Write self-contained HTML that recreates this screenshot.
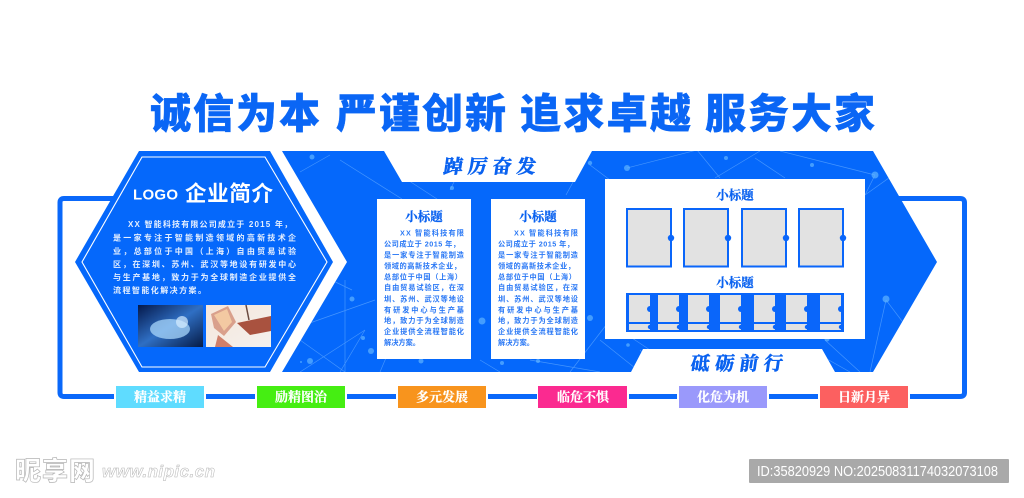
<!DOCTYPE html>
<html><head><meta charset="utf-8"><style>
html,body{margin:0;padding:0;background:#fff;width:1024px;height:498px;overflow:hidden}
svg{display:block}
text{font-family:"Liberation Sans","Noto Sans CJK SC",sans-serif}
.s{font-family:"Liberation Serif","Noto Serif CJK SC",serif;font-weight:700}
.t{font-size:41px;font-weight:900;fill:#0a66f5;stroke:#0a66f5;stroke-width:.4}
.h{font-size:8px;fill:#e4efff;font-weight:700}
.c{font-size:7.2px;fill:#2a78f5;font-weight:700}
.tag{font-size:13px;fill:#fff;text-anchor:middle;stroke:#fff;stroke-width:.2}
.sub{font-size:12.5px;fill:#0a62f0;text-anchor:middle;stroke:#0a62f0;stroke-width:.25}
.cal{font-size:19px;fill:#0a62f0;stroke:#0a62f0;stroke-width:.6}
.n{stroke:#5fa8ff;stroke-width:.7;fill:none;opacity:.7}
.d{fill:#5fb4ff;opacity:.7}
.f{fill:#e2e2e2;stroke:#0a66fa;stroke-width:2}
.k{fill:#0a66fa}
</style></head><body>
<svg width="1024" height="498" viewBox="0 0 1024 498" xmlns="http://www.w3.org/2000/svg">
<defs>
<clipPath id="m"><path d="M282 151H384L402 182H575L592 151H873L937 262L873 372H835L822 349H643L631 372H282L347 262Z"/></clipPath>
<linearGradient id="p1" x1="0" y1="0" x2="1" y2="1"><stop offset="0" stop-color="#04184a"/><stop offset=".5" stop-color="#2f6fc4"/><stop offset="1" stop-color="#051a45"/></linearGradient>
<linearGradient id="p2" x1="0" y1="0" x2="1" y2="1"><stop offset="0" stop-color="#f6e6da"/><stop offset="1" stop-color="#f3f1ee"/></linearGradient>
</defs>
<text class="t" x="150" y="128" textLength="170">诚信为本</text>
<text class="t" x="336" y="128" textLength="170">严谨创新</text>
<text class="t" x="520" y="128" textLength="171">追求卓越</text>
<text class="t" x="705" y="128" textLength="170">服务大家</text>

<path d="M113 198.500H64Q60 198.500 60 202.500V392.500Q60 396.500 64 396.500H960Q964.500 396.500 964.500 392.500V202.500Q964.500 198.500 960 198.500H898" fill="none" stroke="#0a68fa" stroke-width="5"/>

<path d="M282 151H384L402 182H575L592 151H873L937 262L873 372H835L822 349H643L631 372H282L347 262Z" fill="#0568fb"/>
<g clip-path="url(#m)">
<path class="n" d="M300 172L330 155M340 160L402 199M400 175L437 199M450 190L455 180M566 195L590 151M590 165L610 180M627 168L697 150M697 150L720 178M715 178L760 151M755 158L785 178M780 151L875 175M875 175L865 195M865 195L900 170M300 372L365 330M290 330L375 300M365 330L340 372M300 340L345 372M380 372L402 320M402 320L420 345M480 360L500 372M530 360L600 372M570 372L610 320M600 340L640 372M640 350L660 372M620 330L650 350M825 340L860 372M870 372L886 300M886 300L905 325M300 300L345 265M820 355L850 372M290 260L352 290M345 280L345 372"/>
<circle class="d" cx="312" cy="157" r="2.500"/><circle class="d" cx="310" cy="361" r="3"/><circle class="d" cx="301" cy="362" r="1"/>
<circle class="d" cx="371" cy="351" r="3"/><circle class="d" cx="352" cy="299" r="2.500"/><circle class="d" cx="363" cy="338" r="2"/>
<circle class="d" cx="421" cy="361" r="2.500"/><circle class="d" cx="482" cy="321" r="3.500"/><circle class="d" cx="452" cy="188" r="2"/>
<circle class="d" cx="590" cy="163" r="2.200"/><circle class="d" cx="627" cy="168" r="3"/><circle class="d" cx="590" cy="318" r="3"/>
<circle class="d" cx="726" cy="158" r="2"/><circle class="d" cx="812" cy="165" r="2"/><circle class="d" cx="875" cy="175" r="3.500"/>
<circle class="d" cx="886" cy="299" r="3.500"/><circle class="d" cx="827" cy="339" r="2.500"/><circle class="d" cx="628" cy="345" r="1.800"/>
<circle class="d" cx="538" cy="361" r="2"/><circle class="d" cx="502" cy="363" r="2"/>
</g>

<!-- hexagon -->
<path d="M139 151H270L333 262L270 372H139L75 262Z" fill="#0568fb"/>
<path d="M142 157H265L327 262L265 367H142L82 262Z" fill="none" stroke="#fff" stroke-width="1.100"/>
<text x="133" y="199.500" font-size="15" font-weight="700" fill="#fff" textLength="45">LOGO</text>
<text x="185" y="201" font-size="21.500" font-weight="700" fill="#fff" textLength="88">企业简介</text>
<text class="h" x="128" y="227" textLength="164">XX 智能科技有限公司成立于 2015 年，</text>
<text class="h" x="113" y="240.500" textLength="183">是一家专注于智能制造领域的高新技术企</text>
<text class="h" x="113" y="254" textLength="183">业，总部位于中国（上海）自由贸易试验</text>
<text class="h" x="113" y="267" textLength="183">区，在深圳、苏州、武汉等地设有研发中心</text>
<text class="h" x="113" y="280" textLength="183">与生产基地，致力于为全球制造企业提供全</text>
<text class="h" x="113" y="293" textLength="93">流程智能化解决方案。</text>
<rect x="138" y="305" width="65" height="42" fill="url(#p1)"/>
<ellipse cx="170" cy="329" rx="20" ry="10" fill="#a8d6fa" opacity=".75"/>
<circle cx="182" cy="322" r="6" fill="#d5ecff" opacity=".7"/>
<rect x="206" y="305" width="65" height="42" fill="url(#p2)"/>
<path d="M211 314L228 306L236 322L224 336L214 328Z" fill="#d9a08c"/>
<path d="M214 315L227 309L232 322L224 331Z" fill="#f3c9a2"/>
<path d="M237 323L271 316V331L250 335Z" fill="#a9523f"/>
<path d="M218 335L233 347H215Z" fill="#cf7f6a"/>
<path d="M246 305L249 320" stroke="#6b4b40" stroke-width="1.500"/>

<!-- notch headings -->
<text class="s cal" x="0" y="0" textLength="92" transform="translate(443 173) skewX(-8)">踔厉奋发</text>
<text class="s cal" x="0" y="0" textLength="92" transform="translate(690 370) skewX(-8)">砥砺前行</text>

<!-- cards -->
<rect x="377" y="199" width="94" height="160" fill="#fff"/>
<rect x="491" y="199" width="94" height="160" fill="#fff"/>
<text class="s sub" x="424" y="221">小标题</text>
<text class="s sub" x="538" y="221">小标题</text>
<g>
<text class="c" x="400" y="235.500" textLength="64">XX 智能科技有限</text>
<text class="c" x="384" y="246.500" textLength="76">公司成立于 2015 年，</text>
<text class="c" x="384" y="257.500" textLength="80">是一家专注于智能制造</text>
<text class="c" x="384" y="268.500" textLength="77">领域的高新技术企业，</text>
<text class="c" x="384" y="279.500" textLength="78">总部位于中国（上海）</text>
<text class="c" x="384" y="290" textLength="80">自由贸易试验区，在深</text>
<text class="c" x="384" y="301.500" textLength="80">圳、苏州、武汉等地设</text>
<text class="c" x="384" y="312.500" textLength="80">有研发中心与生产基</text>
<text class="c" x="384" y="323" textLength="80">地，致力于为全球制造</text>
<text class="c" x="384" y="334" textLength="80">企业提供全流程智能化</text>
<text class="c" x="384" y="345" textLength="36">解决方案。</text>
</g>
<g>
<text class="c" x="514" y="235.500" textLength="64">XX 智能科技有限</text>
<text class="c" x="498" y="246.500" textLength="76">公司成立于 2015 年，</text>
<text class="c" x="498" y="257.500" textLength="80">是一家专注于智能制造</text>
<text class="c" x="498" y="268.500" textLength="77">领域的高新技术企业，</text>
<text class="c" x="498" y="279.500" textLength="78">总部位于中国（上海）</text>
<text class="c" x="498" y="290" textLength="80">自由贸易试验区，在深</text>
<text class="c" x="498" y="301.500" textLength="80">圳、苏州、武汉等地设</text>
<text class="c" x="498" y="312.500" textLength="80">有研发中心与生产基</text>
<text class="c" x="498" y="323" textLength="80">地，致力于为全球制造</text>
<text class="c" x="498" y="334" textLength="80">企业提供全流程智能化</text>
<text class="c" x="498" y="345" textLength="36">解决方案。</text>
</g>

<!-- panel -->
<rect x="605" y="179" width="260" height="160" fill="#fff"/>
<text class="s sub" x="735" y="199.500">小标题</text>
<text class="s sub" x="735" y="287">小标题</text>
<rect class="f" x="627" y="209" width="44" height="57.500"/><circle class="k" cx="671" cy="238" r="3.200"/>
<rect class="f" x="684" y="209" width="44" height="57.500"/><circle class="k" cx="728" cy="238" r="3.200"/>
<rect class="f" x="742" y="209" width="44" height="57.500"/><circle class="k" cx="786" cy="238" r="3.200"/>
<rect class="f" x="799" y="209" width="44" height="57.500"/><circle class="k" cx="843" cy="238" r="3.200"/>
<rect x="626" y="293" width="218" height="39" fill="#0a66fa"/>
<g fill="#e2e2e2">
<rect x="629" y="295" width="21" height="27"/><rect x="629" y="324" width="21" height="6"/>
<rect x="658" y="295" width="21" height="27"/><rect x="658" y="324" width="21" height="6"/>
<rect x="688" y="295" width="21" height="27"/><rect x="688" y="324" width="21" height="6"/>
<rect x="720" y="295" width="21" height="27"/><rect x="720" y="324" width="21" height="6"/>
<rect x="754" y="295" width="21" height="27"/><rect x="754" y="324" width="21" height="6"/>
<rect x="786" y="295" width="21" height="27"/><rect x="786" y="324" width="21" height="6"/>
<rect x="820" y="295" width="21" height="27"/><rect x="820" y="324" width="21" height="6"/>
</g>
<g class="k">
<circle cx="650" cy="309" r="3"/><circle cx="650" cy="327" r="2.200"/>
<circle cx="679" cy="309" r="3"/><circle cx="679" cy="327" r="2.200"/>
<circle cx="709" cy="309" r="3"/><circle cx="709" cy="327" r="2.200"/>
<circle cx="741" cy="309" r="3"/><circle cx="741" cy="327" r="2.200"/>
<circle cx="775" cy="309" r="3"/><circle cx="775" cy="327" r="2.200"/>
<circle cx="807" cy="309" r="3"/><circle cx="807" cy="327" r="2.200"/>
<circle cx="841" cy="309" r="3"/><circle cx="841" cy="327" r="2.200"/>
</g>

<!-- tags -->
<rect x="114" y="385" width="92" height="24" fill="#fff"/>
<rect x="255" y="385" width="92" height="24" fill="#fff"/>
<rect x="396" y="385" width="92" height="24" fill="#fff"/>
<rect x="537" y="385" width="92" height="24" fill="#fff"/>
<rect x="677" y="385" width="92" height="24" fill="#fff"/>
<rect x="818" y="385" width="92" height="24" fill="#fff"/>
<rect x="116" y="386" width="88" height="22" fill="#5fdcff"/>
<rect x="257" y="386" width="88" height="22" fill="#45ee12"/>
<rect x="398" y="386" width="88" height="22" fill="#f8941d"/>
<rect x="538" y="386" width="89" height="22" fill="#fb2a90"/>
<rect x="679" y="386" width="88" height="22" fill="#9a99fb"/>
<rect x="820" y="386" width="88" height="22" fill="#fc6060"/>
<text class="s tag" x="160" y="401.500">精益求精</text>
<text class="s tag" x="301" y="401.500">励精图治</text>
<text class="s tag" x="442" y="401.500">多元发展</text>
<text class="s tag" x="583" y="401.500">临危不惧</text>
<text class="s tag" x="723" y="401.500">化危为机</text>
<text class="s tag" x="864" y="401.500">日新月异</text>

<!-- watermark -->
<text x="15" y="480" font-size="26" font-weight="900" fill="#fff" stroke="#b5b5b5" stroke-width=".7" textLength="80">昵享网</text>
<text x="102" y="477" font-size="17" font-weight="700" font-style="italic" fill="#fff" stroke="#b5b5b5" stroke-width=".5" textLength="113">www.nipic.cn</text>
<rect x="749" y="459" width="260" height="24" rx="1" fill="#a9a9a9"/>
<text x="757" y="476" font-size="15" fill="#fff" textLength="241" lengthAdjust="spacingAndGlyphs">ID:35820929 NO:20250831174032073108</text>
</svg>
</body></html>
